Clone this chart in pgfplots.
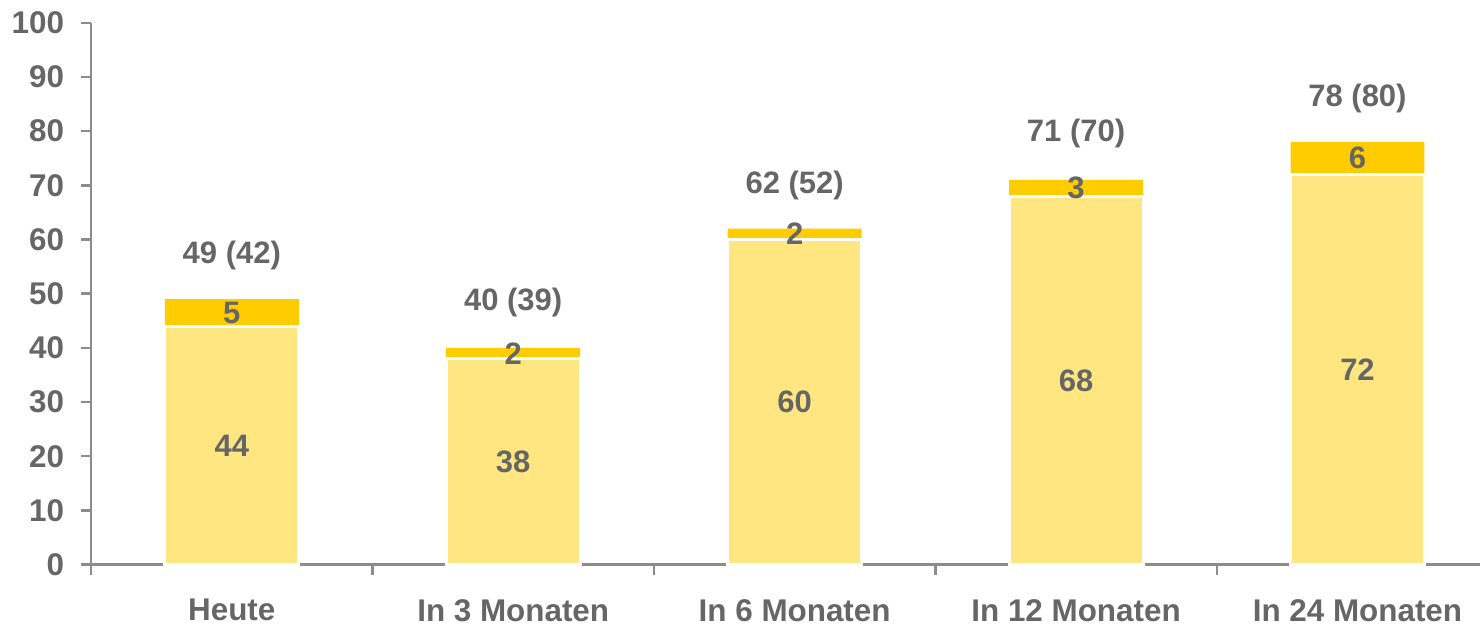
\documentclass[border=0pt]{standalone}
\usepackage{pgfplots}
\pgfplotsset{compat=1.18}
\usepackage{fontspec}
\setmainfont{Liberation Sans}
\definecolor{lightY}{HTML}{FFE680}
\definecolor{darkY}{HTML}{FFCC00}
\definecolor{txtgray}{HTML}{666666}
\definecolor{axc}{HTML}{8C8C8C}
\tikzset{lbl/.style={font=\fontsize{15.5}{15.5}\selectfont\bfseries, text=txtgray}}
\begin{document}
\begin{tikzpicture}
\begin{axis}[
  scale only axis, width=694.5pt, height=271pt,
  ybar, bar width=67pt, bar shift=0pt,
  xmin=-0.5, xmax=4.434, ymin=0, ymax=100,
  axis x line*=bottom, axis y line*=left,
  axis line style={axc, line width=1.4pt},
  xtick={-0.5,0.5,1.5,2.5,3.5},
  xticklabels={},
  extra x ticks={0,1,2,3,4},
  extra x tick labels={Heute, In 3 Monaten, In 6 Monaten, In 12 Monaten, In 24 Monaten},
  extra x tick style={major tick length=0pt},
  ytick={0,10,20,30,40,50,60,70,80,90,100},
  yticklabels={0,10,20,30,40,50,60,70,80,90,100},
  tick align=outside,
  major tick length=5pt,
  tick style={axc, line width=1.2pt},
  yticklabel style={font=\fontsize{15.7}{15.7}\selectfont\bfseries, text=txtgray, xshift=-5pt},
  xticklabel style={font=\fontsize{15.7}{15.7}\selectfont\bfseries, text=txtgray, inner sep=0pt, yshift=-17.2pt},
  clip=false,
]
% total (dark top segment reaches the total)
\addplot[fill=darkY, draw=none] coordinates {(0,49) (1,40) (2,62) (3,71) (4,78)};
% lower segment
\addplot[fill=lightY, draw=white, line width=1.5pt] coordinates {(0,44) (1,38) (2,60) (3,68) (4,72)};
\node[lbl] at (axis cs:0,22) {44};
\node[lbl] at (axis cs:1,19) {38};
\node[lbl] at (axis cs:2,30) {60};
\node[lbl] at (axis cs:3,34) {68};
\node[lbl] at (axis cs:4,36) {72};
\node[lbl] at (axis cs:0,46.5) {5};
\node[lbl] at (axis cs:1,39) {2};
\node[lbl] at (axis cs:2,61) {2};
\node[lbl] at (axis cs:3,69.5) {3};
\node[lbl] at (axis cs:4,75) {6};
\node[lbl] at (axis cs:0,57) {49 (42)};
\node[lbl] at (axis cs:1,48.3) {40 (39)};
\node[lbl] at (axis cs:2,70) {62 (52)};
\node[lbl] at (axis cs:3,79.5) {71 (70)};
\node[lbl] at (axis cs:4,86) {78 (80)};
\end{axis}
\path ([xshift=-2.5pt,yshift=2.5pt]current bounding box.north west) rectangle ([yshift=-3pt]current bounding box.south east);
\end{tikzpicture}
\end{document}
